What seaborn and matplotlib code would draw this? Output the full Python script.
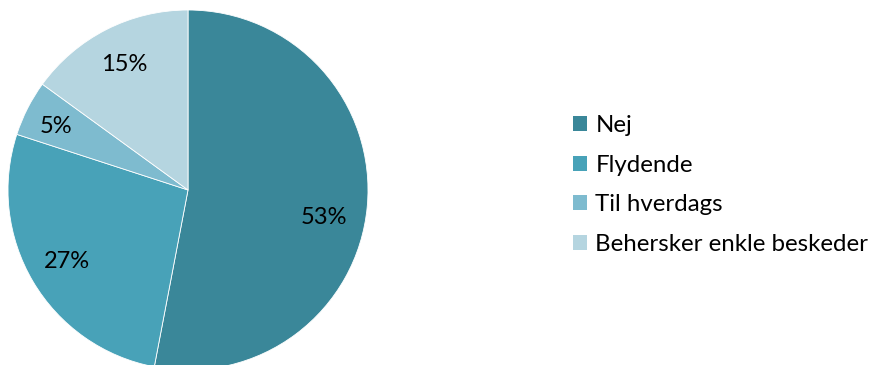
import matplotlib
matplotlib.use("Agg")
import matplotlib.pyplot as plt
from matplotlib.patches import Patch
import seaborn as sns

categories = ["Nej", "Flydende", "Til hverdags", "Behersker enkle beskeder"]
shares = [53, 27, 5, 15]
colors = ["#3A8799", "#48A2B8", "#7EBBCF", "#B5D5E0"]

sns.set_theme(style="white")
plt.rcParams["font.family"] = ["Lato", "DejaVu Sans"]
plt.rcParams["text.color"] = "#000000"

W, H = 875, 365
fig = plt.figure(figsize=(W / 100, H / 100), dpi=100)

# pie axes placed in pixel terms: centre (188, 190), radius 180
cx, cy, r = 188, 190, 180
ax = fig.add_axes([(cx - r) / W, (H - cy - r) / H, 2 * r / W, 2 * r / H])

wedges, texts = ax.pie(
    shares,
    colors=colors,
    startangle=90,
    counterclock=False,
    radius=1.0,
    labels=[f"{v}%" for v in shares],
    labeldistance=0.78,
    wedgeprops=dict(edgecolor="white", linewidth=0.6),
    textprops=dict(fontsize=17, color="#000000"),
)
# small nudges of the percentage labels (in data units of the unit pie)
nudges = [(-0.02, -0.08), (0.0, 0.0), (-0.04, 0.0), (0.0, 0.0)]
for t, (dx, dy) in zip(texts, nudges):
    x, y = t.get_position()
    t.set_position((x + dx, y + dy))
    t.set_ha("center")
    t.set_va("center")
ax.set_xlim(-1, 1)
ax.set_ylim(-1, 1)
ax.set_aspect("equal")
ax.axis("off")

handles = [Patch(facecolor=c, edgecolor="none") for c in colors]
fig.legend(
    handles,
    categories,
    loc="center left",
    bbox_to_anchor=(563 / W, (H - 185) / H),
    frameon=False,
    fontsize=17.3,
    handlelength=0.6,
    handleheight=0.6,
    handletextpad=0.35,
    labelspacing=0.77,
    borderaxespad=0,
    labelcolor="#000000",
)

fig.savefig("out.png", dpi=100)
